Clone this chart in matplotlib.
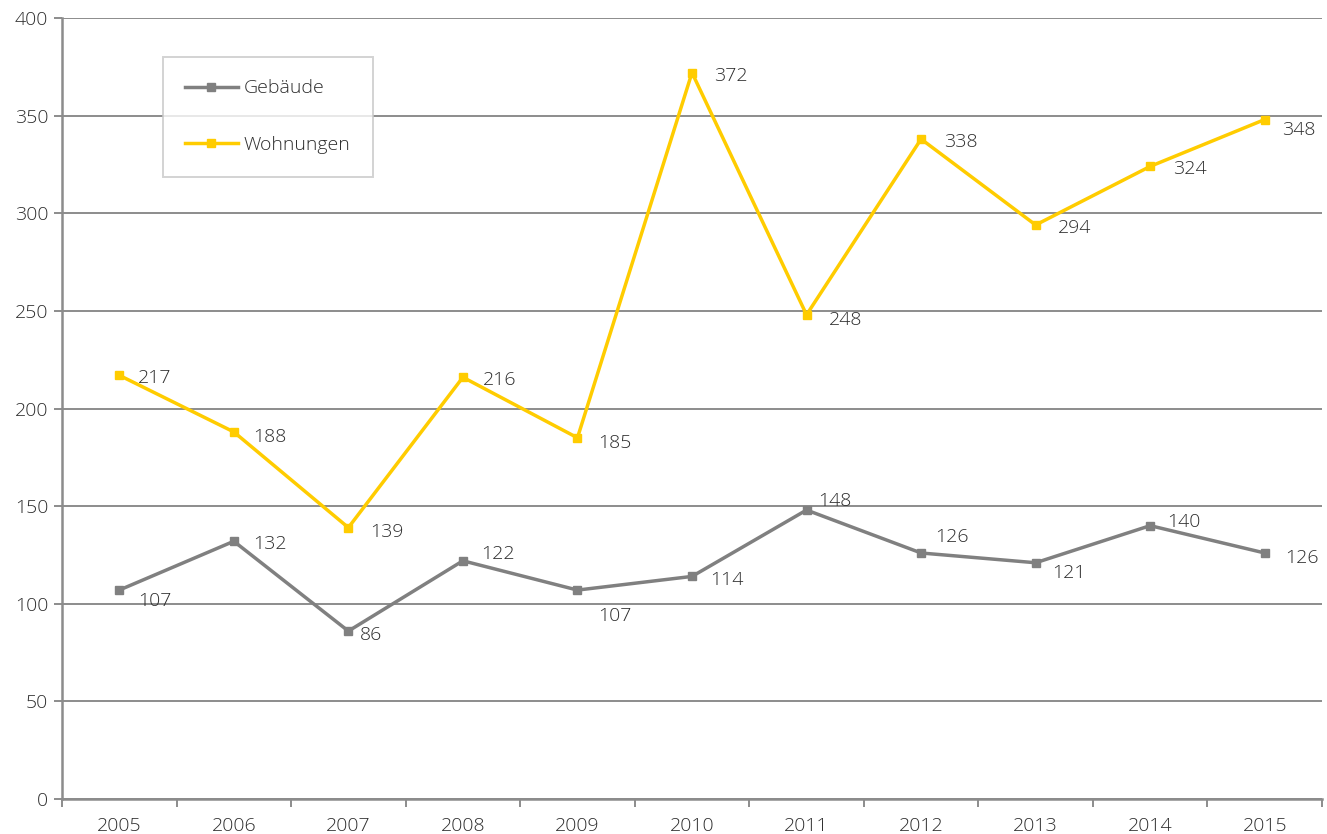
import numpy as np
import matplotlib as mp
import matplotlib.pyplot as plt

mp.rcParams.update({'font.family': ['Open Sans', 'DejaVu Sans'], 'font.size': 14,
                    'font.weight': 'light'})

years = ['2005', '2006', '2007', '2008', '2009', '2010', '2011', '2012', '2013', '2014', '2015']
gebaeude = [107, 132, 86, 122, 107, 114, 148, 126, 121, 140, 126]
wohnungen = [217, 188, 139, 216, 185, 372, 248, 338, 294, 324, 348]

# label offsets in pixels (dx, dy), dy positive = up
off_geb = [(36, -11), (36, -3), (23, -4), (35, 7), (37, -26), (35, -4),
           (28, 9), (31, 16), (33, -10), (34, 4), (37, -5)]
off_woh = [(35, -3), (36, -5), (38, -4), (37, -3), (37, -5), (39, -3),
           (39, -5), (40, -3), (39, -3), (40, -3), (34, -10)]

grey = '#808080'
yellow = '#FFCC00'
gridc = '#8c8c8c'
textc = '#2e2e2e'

fig = plt.figure(figsize=(13.27, 8.34), dpi=100)
ax = fig.add_axes([62/1327, 35/834, 1260/1327, 781/834])

x = np.arange(len(years))
ax.plot(x, gebaeude, '-s', color=grey, lw=2.5, markersize=6, label='Gebäude', zorder=3)
ax.plot(x, wohnungen, '-s', color=yellow, lw=2.5, markersize=6, label='Wohnungen', zorder=3)

px = 72/100
for xi, v, (dx, dy) in zip(x, gebaeude, off_geb):
    ax.annotate(str(v), (xi, v), xytext=(dx*px, dy*px), textcoords='offset points',
                ha='center', va='center', color=textc)
for xi, v, (dx, dy) in zip(x, wohnungen, off_woh):
    ax.annotate(str(v), (xi, v), xytext=(dx*px, dy*px), textcoords='offset points',
                ha='center', va='center', color=textc)

ax.set_xlim(-0.5, len(years)-0.5)
ax.set_ylim(0, 400)
ax.set_yticks(np.arange(0, 401, 50))
ax.yaxis.grid(True, color=gridc, lw=1.4)
ax.set_axisbelow(True)

ax.set_xticks(x)
ax.set_xticklabels(years)
ax.set_xticks(np.arange(-0.5, len(years), 1), minor=True)
ax.tick_params(axis='x', which='major', length=0, pad=13, colors=textc)
ax.tick_params(axis='x', which='minor', length=6, width=1.4, color=gridc, direction='out')
ax.tick_params(axis='y', length=6, width=1.4, color=gridc, pad=4, labelcolor=textc)

for s in ['top', 'right']:
    ax.spines[s].set_visible(False)
for s in ['left', 'bottom']:
    ax.spines[s].set_color(gridc)
    ax.spines[s].set_linewidth(1.8)

leg = ax.legend(loc='upper left', bbox_to_anchor=(0.080, 0.950), frameon=True, fancybox=False,
                labelspacing=2.0, handlelength=2.7, handletextpad=0.3, borderpad=1.15,
                borderaxespad=0, labelcolor=textc)
leg.get_frame().set_edgecolor('#c8c8c8')
leg.get_frame().set_linewidth(1.4)

plt.savefig('out.png', dpi=100)
